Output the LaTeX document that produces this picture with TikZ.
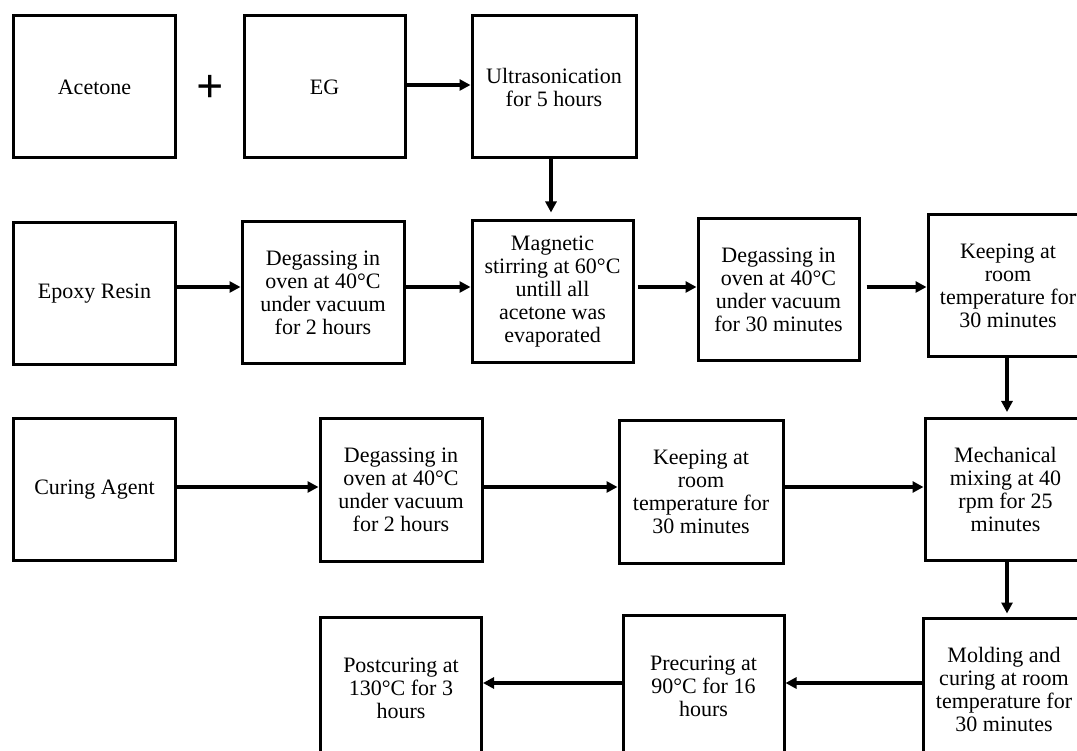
\documentclass[tikz,border=0pt]{standalone}
\usepackage{fontspec}
\setmainfont{Liberation Serif}
\usetikzlibrary{arrows.meta}
\begin{document}
\begin{tikzpicture}[x=1pt,y=1pt,
  box/.style={draw, line width=3pt, fill=white, align=center, inner sep=0pt,
    minimum width=161pt, minimum height=142pt, font=\fontsize{22}{23}\selectfont},
  arr/.style={line width=3.8pt, -{Triangle[length=11pt,width=11pt]}},
  plussign/.style={inner sep=0pt, font=\fontsize{48}{48}\selectfont\bfseries}
]
\useasboundingbox (0,0) rectangle (1077,-751);
\clip (0,0) rectangle (1077,-751);
\fill[white] (0,0) rectangle (1077,-751);

% Row 1
\node[box, minimum width=162pt] (acetone) at (94.5,-87) {Acetone};
\node[plussign] (plus) at (210,-89) {+};
\node[box] (eg) at (324.5,-87) {EG};
\node[box, minimum width=164pt] (ultra) at (554,-87) {Ultrasonication\\for 5 hours};

% Row 2
\node[box, minimum width=162pt] (epoxy) at (94.5,-293.5) {Epoxy Resin};
\node[box, minimum width=162pt] (deg1) at (323,-293) {Degassing in\\oven at 40°C\\under vacuum\\for 2 hours};
\node[box] (mag) at (552.5,-292) {Magnetic\\stirring at 60°C\\untill all\\acetone was\\evaporated};
\node[box] (deg2) at (778.5,-289.5) {Degassing in\\oven at 40°C\\under vacuum\\for 30 minutes};
\node[box, minimum width=160pt] (keep1) at (1008,-286) {Keeping at\\room\\temperature for\\30 minutes};

% Row 3
\node[box, minimum width=162pt] (curing) at (94.5,-489.5) {Curing Agent};
\node[box, minimum width=162pt] (deg3) at (401,-490) {Degassing in\\oven at 40°C\\under vacuum\\for 2 hours};
\node[box, minimum width=164pt] (keep2) at (701,-492) {Keeping at\\room\\temperature for\\30 minutes};
\node[box] (mech) at (1005.5,-489.5) {Mechanical\\mixing at 40\\rpm for 25\\minutes};

% Row 4
\node[box, minimum width=162pt] (mold) at (1004,-689) {Molding and\\curing at room\\temperature for\\30 minutes};
\node[box] (pre) at (703.5,-686) {Precuring at\\90°C for 16\\hours};
\node[box] (post) at (401,-688) {Postcuring at\\130°C for 3\\hours};

% Connectors
\coordinate (r1) at (0,-85);
\draw[arr] (eg.east |- r1) -- (ultra.west |- r1);
\coordinate (r2) at (0,-287);
\draw[arr] (epoxy.east |- r2) -- (deg1.west |- r2);
\draw[arr] (deg1.east |- r2) -- (mag.west |- r2);
\draw[arr, shorten <=3pt] (mag.east |- r2) -- (deg2.west |- r2);
\draw[arr, shorten <=6pt] (deg2.east |- r2) -- (keep1.west |- r2);
\coordinate (r3) at (0,-487);
\draw[arr] (curing.east |- r3) -- (deg3.west |- r3);
\draw[arr] (deg3.east |- r3) -- (keep2.west |- r3);
\draw[arr] (keep2.east |- r3) -- (mech.west |- r3);
\coordinate (r4) at (0,-683);
\draw[arr] (mold.west |- r4) -- (pre.east |- r4);
\draw[arr] (pre.west |- r4) -- (post.east |- r4);
\coordinate (c1) at (551,0);
\draw[arr, shorten >=7pt] (ultra.south -| c1) -- (mag.north -| c1);
\coordinate (c2) at (1007,0);
\draw[arr, shorten >=5pt] (keep1.south -| c2) -- (mech.north -| c2);
\draw[arr, shorten >=3pt] (mech.south -| c2) -- (mold.north -| c2);
\end{tikzpicture}
\end{document}
